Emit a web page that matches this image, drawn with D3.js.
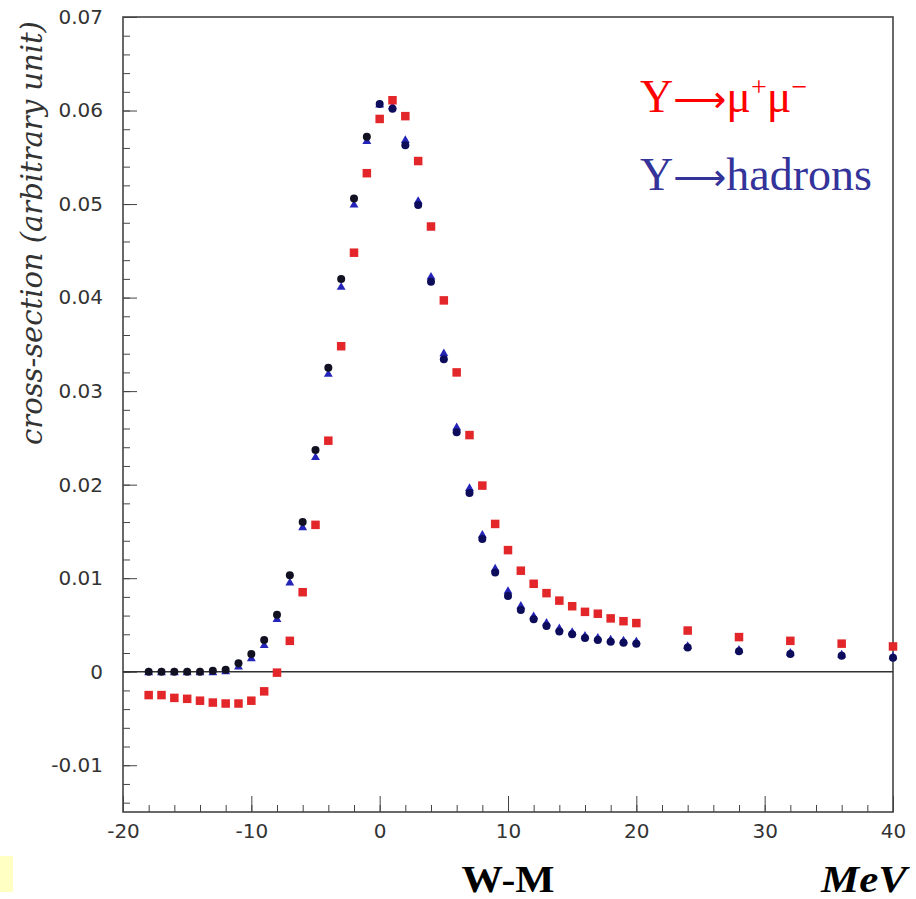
<!DOCTYPE html>
<html>
<head>
<meta charset="utf-8">
<script src="https://cdn.jsdelivr.net/npm/d3@7"></script>
<style>
  body { margin: 0; background: #fff; }
  svg { display: block; }
</style>
</head>
<body>
<div id="chart-area"></div>
<script>
// W-M (MeV) sample points
var wm = [-18, -17, -16, -15, -14, -13, -12, -11, -10, -9, -8, -7, -6, -5, -4, -3, -2, -1,
	0, 1, 2, 3, 4, 5, 6, 7, 8, 9, 10, 11, 12, 13, 14, 15, 16, 17, 18, 19, 20,
	24, 28, 32, 36, 40];

// Y -> mu+ mu-  (red squares)
var muons = [-0.0025, -0.0025, -0.0028, -0.0029, -0.0031, -0.0033, -0.0034, -0.0034, -0.0031, -0.0021,
	-0.0001, 0.0033, 0.0085, 0.0157, 0.0247, 0.0348, 0.0448, 0.0533,
	0.0591, 0.0611, 0.0594, 0.0546, 0.0476, 0.0397, 0.0320, 0.0253, 0.0199, 0.0158, 0.0130,
	0.0108, 0.0094, 0.0084, 0.0076, 0.0070, 0.0064, 0.0062, 0.0057, 0.0054, 0.0052,
	0.0044, 0.0037, 0.0033, 0.0030, 0.0027];

// Y -> hadrons (dark circles)
var hadronsA = [0.0000, 0.0000, 0.0000, 0.0000, 0.0000, 0.0001, 0.0002, 0.0009, 0.0019, 0.0034,
	0.0061, 0.0103, 0.0160, 0.0237, 0.0325, 0.0420, 0.0506, 0.0572,
	0.0607, 0.0602, 0.0563, 0.0499, 0.0417, 0.0334, 0.0256, 0.0191, 0.0142, 0.0106, 0.0081,
	0.0066, 0.0056, 0.0049, 0.0043, 0.0040, 0.0036, 0.0034, 0.0032, 0.0031, 0.0030,
	0.0026, 0.0022, 0.0019, 0.0017, 0.0015];

// Y -> hadrons (blue triangles)
var hadronsB = [-0.0001, -0.0001, -0.0001, -0.0001, -0.0001, -0.0001, 0.0000, 0.0005, 0.0014, 0.0028,
	0.0056, 0.0095, 0.0154, 0.0229, 0.0318, 0.0411, 0.0499, 0.0567,
	0.0606, 0.0604, 0.0568, 0.0503, 0.0422, 0.0340, 0.0261, 0.0196, 0.0146, 0.0110, 0.0086,
	0.0070, 0.0059, 0.0052, 0.0046, 0.0042, 0.0038, 0.0036, 0.0034, 0.0033, 0.0032,
	0.0027, 0.0023, 0.0020, 0.0018, 0.0016];

var xTicks = [-20, -10, 0, 10, 20, 30, 40];
var yTicks = [-0.01, 0, 0.01, 0.02, 0.03, 0.04, 0.05, 0.06, 0.07];

var margin = {left: 123, right: 23, top: 17, bottom: 87};
var W = 916, H = 899;
var width = W - margin.left - margin.right,
	height = H - margin.top - margin.bottom;

var svg = d3.select("#chart-area")
	.append("svg")
		.attr("width", W)
		.attr("height", H);

var canvas = svg.append("g")
	.attr("transform", "translate(" + margin.left + ", " + margin.top + ")");

//scales
var x = d3.scaleLinear()
	.domain([-20, 40])
	.range([0, width]);

var y = d3.scaleLinear()
	.domain([-0.015, 0.07])
	.range([height, 0]);

var tickFont = "'DejaVu Sans', sans-serif";
var axisColor = "#444";

//minor ticks first
canvas.append("g")
	.attr("class", "y minor")
	.call(d3.axisLeft(y)
		.tickValues(d3.range(-7, 36).map(function(i){ return i * 0.002; }))
		.tickSize(-7)
		.tickFormat(""));

canvas.append("g")
	.attr("class", "x minor")
	.attr("transform", "translate(0, " + height + ")")
	.call(d3.axisBottom(x)
		.tickValues(d3.range(-20, 41, 2))
		.tickSize(-7)
		.tickFormat(""));

//major ticks + labels
canvas.append("g")
	.attr("class", "y axis")
	.call(d3.axisLeft(y)
		.tickValues(yTicks)
		.tickSize(-14)
		.tickPadding(20)
		.tickFormat(function(d){ return d === 0 ? "0" : d.toFixed(2); }));

canvas.append("g")
	.attr("class", "x axis")
	.attr("transform", "translate(0, " + height + ")")
	.call(d3.axisBottom(x)
		.tickValues(xTicks)
		.tickSize(-16)
		.tickPadding(12)
		.tickFormat(function(d){ return String(d); }));

canvas.selectAll(".domain").remove();
canvas.selectAll(".tick line").attr("stroke", axisColor).attr("stroke-width", 1);
canvas.selectAll(".tick text")
	.attr("font-family", tickFont)
	.attr("font-size", 20)
	.attr("fill", "#333");

//frame
canvas.append("rect")
	.attr("width", width)
	.attr("height", height)
	.attr("fill", "none")
	.attr("stroke", axisColor)
	.attr("stroke-width", 1.6);

//zero line
canvas.append("line")
	.attr("x1", 0)
	.attr("x2", width)
	.attr("y1", y(0))
	.attr("y2", y(0))
	.attr("stroke", "#333")
	.attr("stroke-width", 1.4);

//markers
var triangle = d3.symbol().type(d3.symbolTriangle).size(34);

canvas.selectAll("path.tri")
	.data(wm.map(function(d, i){ return {x: d, v: hadronsB[i]}; }))
	.enter().append("path")
		.attr("class", "tri")
		.attr("d", triangle)
		.attr("transform", function(d){ return "translate(" + x(d.x) + "," + y(d.v) + ")"; })
		.attr("fill", "#2424b8");

canvas.selectAll("circle.had")
	.data(wm.map(function(d, i){ return {x: d, v: hadronsA[i]}; }))
	.enter().append("circle")
		.attr("class", "had")
		.attr("cx", function(d){ return x(d.x); })
		.attr("cy", function(d){ return y(d.v); })
		.attr("r", 4)
		.attr("fill", function(d){ return d.x < 0 ? "#111122" : "#0c0c5a"; });

var sq = 8.5;
canvas.selectAll("rect.mu")
	.data(wm.map(function(d, i){ return {x: d, v: muons[i]}; }))
	.enter().append("rect")
		.attr("class", "mu")
		.attr("x", function(d){ return x(d.x) - sq / 2; })
		.attr("y", function(d){ return y(d.v) - sq / 2; })
		.attr("width", sq)
		.attr("height", sq)
		.attr("fill", "#e2262a");

//labels
svg.append("text")
	.attr("transform", "translate(42, 233) rotate(-90)")
	.attr("text-anchor", "middle")
	.attr("font-family", "'DejaVu Serif', serif")
	.attr("font-style", "italic")
	.attr("font-size", 29)
	.attr("fill", "#333")
	.text("cross-section (arbitrary unit)");

svg.append("text")
	.attr("x", 508)
	.attr("y", 892)
	.attr("text-anchor", "middle")
	.attr("font-family", "'Liberation Serif', serif")
	.attr("font-weight", "bold")
	.attr("font-size", 38)
	.attr("textLength", 93)
	.attr("lengthAdjust", "spacingAndGlyphs")
	.text("W-M");

svg.append("text")
	.attr("x", 821)
	.attr("y", 892)
	.attr("font-family", "'Liberation Serif', serif")
	.attr("font-weight", "bold")
	.attr("font-style", "italic")
	.attr("font-size", 38)
	.attr("textLength", 86)
	.attr("lengthAdjust", "spacingAndGlyphs")
	.text("MeV");

//legend
var legendFont = "'Liberation Serif', 'Times New Roman', serif";
var arrowFont = "'DejaVu Sans', sans-serif";

var lg1 = svg.append("text")
	.attr("x", 640)
	.attr("y", 112)
	.attr("font-family", legendFont)
	.attr("font-size", 46)
	.attr("fill", "#ff0000");
lg1.append("tspan").text("Y");
lg1.append("tspan").attr("font-family", arrowFont).attr("font-size", 37).text("⟶");
lg1.append("tspan").text("μ");
lg1.append("tspan").attr("dy", -16).attr("font-size", 28).text("+");
lg1.append("tspan").attr("dy", 16).text("μ");
lg1.append("tspan").attr("dy", -16).attr("font-size", 28).text("−");

var lg2 = svg.append("text")
	.attr("x", 640)
	.attr("y", 190)
	.attr("font-family", legendFont)
	.attr("font-size", 46)
	.attr("fill", "#333399");
lg2.append("tspan").text("Y");
lg2.append("tspan").attr("font-family", arrowFont).attr("font-size", 37).text("⟶");
lg2.append("tspan").text("hadrons");

//small yellow patch at the bottom left
svg.append("rect")
	.attr("x", 0)
	.attr("y", 856)
	.attr("width", 13)
	.attr("height", 36)
	.attr("fill", "#ffffc4");
</script>
</body>
</html>
